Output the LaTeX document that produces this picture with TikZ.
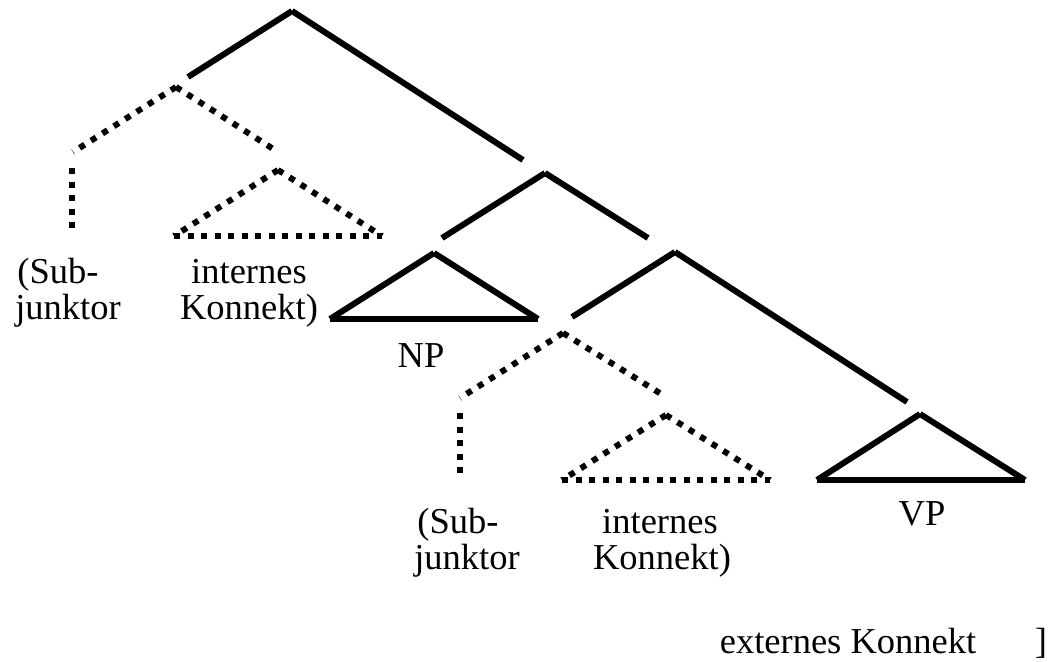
\documentclass[tikz,border=0pt]{standalone}
\usepackage{fontspec}
\setmainfont{Liberation Serif}
\begin{document}
\begin{tikzpicture}[x=1pt,y=-1pt,
  solidln/.style={line width=6pt},
  dotln/.style={line width=6pt,dash pattern=on 6pt off 7.5pt},
  lbl/.style={anchor=base,inner sep=0pt,font=\fontsize{36.5}{40}\selectfont}]
\useasboundingbox (0,0) rectangle (1051,661);
% solid skeleton
\coordinate (A) at (292,11);
\coordinate (Al) at (188,77);
\coordinate (Ar) at (523,160);
\coordinate (B) at (545,173);
\coordinate (Bl) at (442,238);
\coordinate (Br) at (648,238);
\coordinate (C) at (675,252);
\coordinate (Cl) at (572,317);
\coordinate (Cr) at (907,402);
% NP triangle
\coordinate (NPt) at (434,253);
\coordinate (NPl) at (330,319);
\coordinate (NPr) at (538,319);
% VP triangle
\coordinate (VPt) at (920,414);
\coordinate (VPl) at (817,480);
\coordinate (VPr) at (1025,480);
% dotted upper
\coordinate (D1) at (176,87);
\coordinate (D1l) at (73,152);
\coordinate (V1a) at (72,168);
\coordinate (V1b) at (72,228);
\coordinate (D1r) at (278,152);
\coordinate (T1t) at (278,170);
\coordinate (T1l) at (174,236);
\coordinate (T1r) at (382,236);
% dotted lower
\coordinate (D2) at (563,333);
\coordinate (D2l) at (460,398);
\coordinate (V2a) at (460,413);
\coordinate (V2b) at (460,473);
\coordinate (D2r) at (666,397);
\coordinate (T2t) at (666,415);
\coordinate (T2l) at (562,480);
\coordinate (T2r) at (770,480);

\draw[solidln] (A) -- (Al);
\draw[solidln] (A) -- (Ar);
\draw[solidln] (B) -- (Bl);
\draw[solidln] (B) -- (Br);
\draw[solidln] (C) -- (Cl);
\draw[solidln] (C) -- (Cr);
\draw[solidln] (NPt) -- (NPl);
\draw[solidln] (NPt) -- (NPr);
\draw[solidln] (NPl) -- (NPr);
\draw[solidln] (VPt) -- (VPl);
\draw[solidln] (VPt) -- (VPr);
\draw[solidln] (VPl) -- (VPr);

\draw[dotln] (D1) -- (D1l);
\draw[dotln] (D1) -- (D1r);
\draw[dotln] (V1a) -- (V1b);
\draw[dotln] (T1t) -- (T1l);
\draw[dotln] (T1t) -- (T1r);
\draw[dotln] (T1l) -- (T1r);
\draw[dotln] (D2) -- (D2l);
\draw[dotln] (D2) -- (D2r);
\draw[dotln] (V2a) -- (V2b);
\draw[dotln] (T2t) -- (T2l);
\draw[dotln] (T2t) -- (T2r);
\draw[dotln] (T2l) -- (T2r);

% labels
\node[lbl] (sub1a) at (58,283) {(Sub-};
\node[lbl] (sub1b) at (68,319) {junktor};
\node[lbl] (int1a) at (249,283) {internes};
\node[lbl] (int1b) at (249,319) {Konnekt)};
\node[lbl] (np) at (421,367) {NP};
\node[lbl] (sub2a) at (458,533) {(Sub-};
\node[lbl] (sub2b) at (467,569) {junktor};
\node[lbl] (int2a) at (660,533) {internes};
\node[lbl] (int2b) at (662,569) {Konnekt)};
\node[lbl] (vp) at (922,525) {VP};
\node[lbl] (ext) at (848,653) {externes Konnekt};
\node[lbl] (brk) at (1041,653) {]};
\end{tikzpicture}
\end{document}
